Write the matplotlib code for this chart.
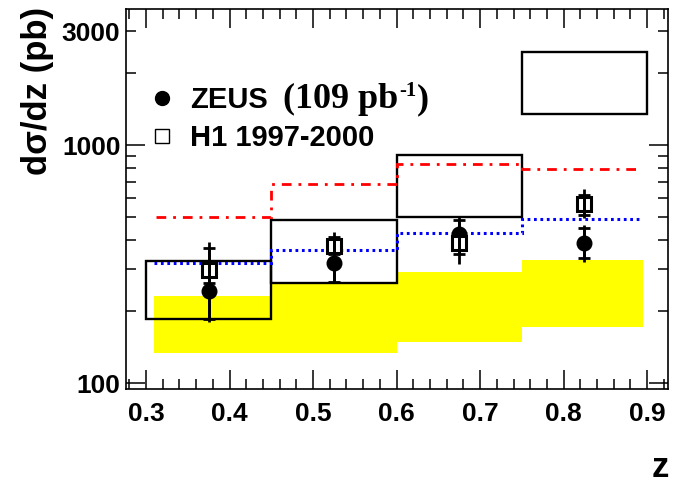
import numpy as np
import matplotlib
matplotlib.use("Agg")
import matplotlib.pyplot as plt
from matplotlib.lines import Line2D
from matplotlib.ticker import FixedLocator, FuncFormatter
from matplotlib.transforms import offset_copy

### DATA ###
z_centers = [0.375, 0.525, 0.675, 0.825]

# ZEUS points (filled circles)
zeus_y = [244, 319, 423, 389]
zeus_stat_lo = [186, 266, 372, 334]
zeus_stat_hi = [300, 372, 484, 447]
zeus_tot_lo = [180, 262, 360, 324]
zeus_tot_hi = [310, 380, 500, 460]

# H1 points (open squares)
h1_y = [298, 376, 386, 565]
h1_stat_lo = [262, 350, 348, 508]
h1_stat_hi = [368, 412, 425, 617]
h1_tot_lo = [250, 340, 316, 495]
h1_tot_hi = [393, 432, 440, 652]

# open boxes per bin
box_edges = [0.3, 0.45, 0.6, 0.75, 0.9]
box_lo = [185, 262, 500, 1349]
box_hi = [326, 484, 905, 2466]

# yellow band
band_edges = [0.309, 0.45, 0.6, 0.75, 0.895]
band_lo = [134, 134, 148, 172]
band_hi = [232, 261, 292, 329]

# red dash-dot curve
red_edges = [0.312, 0.45, 0.6, 0.75, 0.892]
red_vals = [498, 687, 834, 793]

# blue dotted curve
blue_edges = [0.309, 0.45, 0.6, 0.75, 0.893]
blue_vals = [318, 362, 428, 488]

xticks = [0.3, 0.4, 0.5, 0.6, 0.7, 0.8, 0.9]

### PLOT ###
W, H = 673, 483
fig = plt.figure(figsize=(W / 100, H / 100), dpi=100)
ax = fig.add_axes([126 / W, 1 - 389.3 / H, (668 - 126) / W, (389.3 - 9.3) / H])

sans = "Liberation Sans"
serif = "Liberation Serif"

ax.set_yscale("log")
ax.set_xlim(0.276, 0.925)
ax.set_ylim(94.1, 3718)

# yellow band
ax.stairs(band_hi, band_edges, baseline=band_lo, fill=True, color="#ffff00", lw=0, zorder=1)

# boxes
widths = np.diff(box_edges)
heights = np.array(box_hi) - np.array(box_lo)
ax.bar(box_edges[:-1], heights, width=widths, bottom=box_lo, align="edge",
       fill=False, edgecolor="black", linewidth=1.7, zorder=2)

# theory lines
ax.stairs(red_vals, red_edges, baseline=None, color="red", lw=2.0,
          linestyle=(0, (3.5, 2.5, 1.0, 2.5)), zorder=3)
ax.stairs(blue_vals, blue_edges, baseline=None, color="blue", lw=2.2,
          linestyle=(0, (0.9, 1.2)), zorder=3)

zy = np.array(zeus_y)
hy = np.array(h1_y)
elw = 2.0

# ZEUS
ax.errorbar(z_centers, zy, yerr=[zy - np.array(zeus_tot_lo), np.array(zeus_tot_hi) - zy],
            fmt="none", ecolor="black", elinewidth=elw, capsize=0, zorder=5)
ax.errorbar(z_centers, zy, yerr=[zy - np.array(zeus_stat_lo), np.array(zeus_stat_hi) - zy],
            fmt="none", ecolor="black", elinewidth=elw, capsize=4.5, capthick=elw, zorder=5)
ax.plot(z_centers, zy, "o", color="black", ms=10.5, zorder=5)

# H1
ax.plot(z_centers, hy, "s", mfc="white", mec="black", mew=2.2, ms=9.5, zorder=6)
ax.errorbar(z_centers, hy, yerr=[hy - np.array(h1_tot_lo), np.array(h1_tot_hi) - hy],
            fmt="none", ecolor="black", elinewidth=elw, capsize=0, zorder=7)
ax.errorbar(z_centers, hy, yerr=[hy - np.array(h1_stat_lo), np.array(h1_stat_hi) - hy],
            fmt="none", ecolor="black", elinewidth=elw, capsize=4.5, capthick=elw, zorder=7)

# axes styling
ax.set_xticks(xticks)
ax.set_xticklabels([f"{v:.1f}" for v in xticks])
ax.xaxis.set_minor_locator(FixedLocator(np.arange(0.28, 0.9201, 0.02)))
ax.yaxis.set_major_locator(FixedLocator([100, 1000]))
ax.yaxis.set_major_formatter(FuncFormatter(lambda v, p: f"{v:.0f}"))
ax.yaxis.set_minor_locator(FixedLocator([200, 300, 400, 500, 600, 700, 800, 900, 2000, 3000]))
ax.yaxis.set_minor_formatter(FuncFormatter(lambda v, p: "3000" if abs(v - 3000) < 1 else ""))

ax.tick_params(which="both", direction="in", top=True, right=True, width=1.1)
ax.tick_params(which="major", length=14)
ax.tick_params(which="minor", length=7)
ax.tick_params(axis="x", which="major", pad=9)
ax.tick_params(axis="y", which="both", pad=4)
for lab in ax.get_xticklabels() + ax.get_yticklabels() + ax.get_yticklabels(minor=True):
    lab.set_fontfamily(sans)
    lab.set_fontweight("bold")
    lab.set_fontsize(19)
for s in ax.spines.values():
    s.set_linewidth(1.2)

# axis titles (ROOT style, at the end of the axes)
fig.text(37 / W, 1 - 7 / H, "d\u03c3/dz (pb)", rotation=90, ha="center", va="top",
         fontsize=25, fontweight="bold", fontfamily=sans)
fig.text(669 / W, 1 - 477 / H, "z", ha="right", va="baseline",
         fontsize=25, fontweight="bold", fontfamily=sans)

# legend
handles = [Line2D([], [], marker="o", ls="none", color="black", ms=10),
           Line2D([], [], marker="s", ls="none", mfc="white", mec="black", mew=1.0, ms=10)]
leg = ax.legend(handles, ["ZEUS", "H1 1997-2000"], loc="upper left",
                bbox_to_anchor=((147.5 - 126) / (668 - 126), 1 - (86 - 9.3) / 380),
                frameon=False, borderpad=0, borderaxespad=0, handlelength=1.0,
                handletextpad=0.45, labelspacing=0.36,
                prop={"family": sans, "weight": "bold", "size": 21})

# "(109 pb^-1)" in serif, built from pieces
renderer = fig.canvas.get_renderer()
t1 = fig.text(283 / W, 1 - 108 / H, "(109 pb", ha="left", va="baseline",
              fontsize=26, fontweight="bold", fontfamily=serif)
w1 = t1.get_window_extent(renderer).width
t2 = fig.text(283 / W, 1 - 108 / H, "-1", ha="left", va="baseline",
              fontsize=15, fontweight="bold", fontfamily=serif,
              transform=offset_copy(fig.transFigure, fig=fig, x=w1 + 1, y=12, units="dots"))
w2 = t2.get_window_extent(renderer).width
fig.text(283 / W, 1 - 108 / H, ")", ha="left", va="baseline",
         fontsize=26, fontweight="bold", fontfamily=serif,
         transform=offset_copy(fig.transFigure, fig=fig, x=w1 + w2 + 1, y=0, units="dots"))

fig.savefig("out.png", dpi=100)
